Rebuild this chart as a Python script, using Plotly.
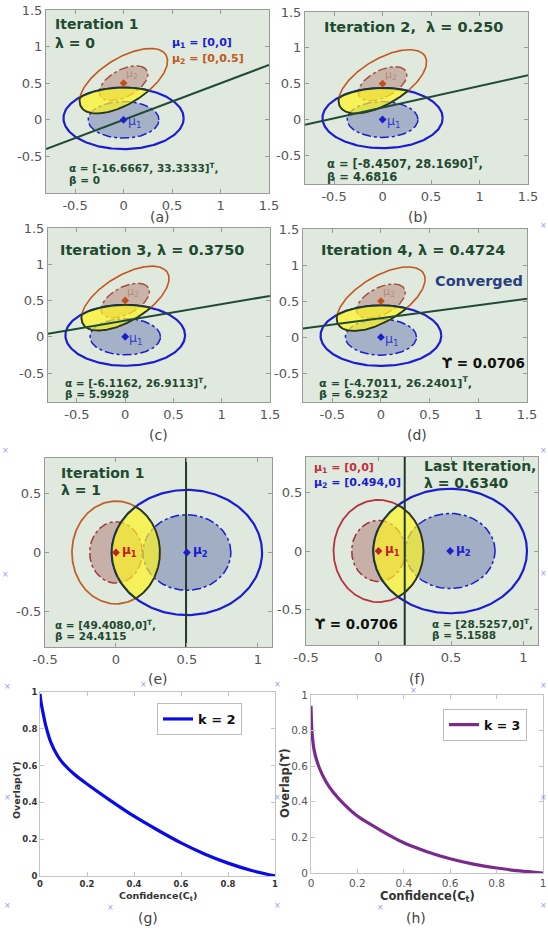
import numpy as np
import plotly.graph_objects as go

W, H = 548, 933
FONT = "DejaVu Sans"

# ---------------- data: panels (a)-(d) ----------------
titles_ad = ["Iteration 1", "Iteration 2,  λ = 0.250", "Iteration 3, λ = 0.3750", "Iteration 4, λ = 0.4724"]
alpha_ad = [(-16.6667, 33.3333), (-8.4507, 28.1690), (-6.1162, 26.9113), (-4.7011, 26.2401)]
beta_ad = [0, 4.6816, 5.9928, 6.9232]
alpha_txt_ad = ["[-16.6667, 33.3333]", "[-8.4507, 28.1690]", "[-6.1162, 26.9113]", "[-4.7011, 26.2401]"]
beta_txt_ad = ["0", "4.6816", "5.9928", "6.9232"]
mu1_ad = [0, 0]
mu2_ad = [0, 0.5]
# ellipse parameters: centre x, centre y, semi-axis a, semi-axis b, rotation (deg)
blue_outer_ad = [0, 0.02, 0.62, 0.42, 0]
blue_inner_ad = [0, 0.0, 0.365, 0.25, 0]
orange_outer_ad = [0, 0.53, 0.57, 0.28, 44]
orange_inner_ad = [0, 0.5, 0.30, 0.17, 42]

# ---------------- data: panels (e)-(f) ----------------
alpha_ef = [(49.4080, 0), (28.5257, 0)]
beta_ef = [24.4115, 5.1588]
alpha_txt_ef = ["[49.4080,0]", "[28.5257,0]"]
beta_txt_ef = ["24.4115", "5.1588"]
mu1_ef = [0, 0]
mu2_ef = [[0.5, 0], [0.494, 0]]
red_outer_ef = [0.31, 0.435]
red_inner_ef = [0.185, 0.26]
blue_outer_ef = [0.53, 0.53]
blue_inner_ef = [0.31, 0.32]

# ---------------- data: panels (g)-(h) ----------------
conf_k2 = [0, 0.005, 0.01, 0.024, 0.046, 0.074, 0.1, 0.146, 0.2, 0.3, 0.4, 0.5, 0.6, 0.7, 0.8, 0.9, 1.0]
overlap_k2 = [0.99, 0.94, 0.905, 0.82, 0.727, 0.655, 0.61, 0.553, 0.50, 0.41, 0.325, 0.25, 0.18, 0.12, 0.07, 0.03, 0.0]
conf_k3 = [0, 0.002, 0.005, 0.015, 0.036, 0.066, 0.095, 0.14, 0.2, 0.3, 0.4, 0.5, 0.6, 0.7, 0.8, 0.9, 1.0]
overlap_k3 = [0.94, 0.85, 0.78, 0.68, 0.59, 0.51, 0.455, 0.39, 0.32, 0.24, 0.17, 0.12, 0.08, 0.05, 0.028, 0.012, 0.0]

tick_ad = [-0.5, 0, 0.5, 1, 1.5]
tick_ad_txt = ["-0.5", "0", "0.5", "1", "1.5"]
tick_ef_x = [-0.5, 0, 0.5, 1]
tick_ef_x_txt = ["-0.5", "0", "0.5", "1"]
tick_ef_y = [-0.5, 0, 0.5]
tick_ef_y_txt = ["-0.5", "0", "0.5"]
tick_gh = [0, 0.2, 0.4, 0.6, 0.8, 1]
tick_gh_txt = ["0", "0.2", "0.4", "0.6", "0.8", "1"]

# ---------------- helpers ----------------
def ellipse_xy(p, n=240):
    cx, cy, a, b, ang = p
    t = np.linspace(0, 2 * np.pi, n)
    th = np.deg2rad(ang)
    x = cx + a * np.cos(t) * np.cos(th) - b * np.sin(t) * np.sin(th)
    y = cy + a * np.cos(t) * np.sin(th) + b * np.sin(t) * np.cos(th)
    return x, y

def inside(p, x, y):
    cx, cy, a, b, ang = p
    th = np.deg2rad(ang)
    dx, dy = x - cx, y - cy
    u = dx * np.cos(th) + dy * np.sin(th)
    v = -dx * np.sin(th) + dy * np.cos(th)
    return (u / a) ** 2 + (v / b) ** 2 <= 1.0

def intersection(p1, p2, n=1440):
    x1, y1 = ellipse_xy(p1, n)
    x2, y2 = ellipse_xy(p2, n)
    m1 = inside(p2, x1, y1)
    m2 = inside(p1, x2, y2)
    xs = np.concatenate([x1[m1], x2[m2]])
    ys = np.concatenate([y1[m1], y2[m2]])
    cx, cy = xs.mean(), ys.mean()
    o = np.argsort(np.arctan2(ys - cy, xs - cx))
    xs, ys = xs[o], ys[o]
    return np.append(xs, xs[0]), np.append(ys, ys[0])

def px(x):
    return x / W

def py(y):
    return 1 - y / H

fig = go.Figure()
layout = dict(width=W, height=H, margin=dict(l=0, r=0, t=0, b=0),
              paper_bgcolor="white", plot_bgcolor="white")
annotations = []
shapes = []

def ann(text, x, y, size, color, bold=True, xanchor="left", yanchor="middle", angle=0):
    annotations.append(dict(text=("<b>%s</b>" % text) if bold else text, x=px(x), y=py(y),
                            xref="paper", yref="paper", xanchor=xanchor, yanchor=yanchor,
                            showarrow=False, textangle=angle,
                            font=dict(family=FONT, size=size, color=color)))

# panel pixel boxes: (left, right, top, bottom)
boxes = [
    (46, 269, 10, 193), (305, 528, 12, 184),
    (48, 270, 228, 402), (303, 527, 229, 402),
    (45, 272, 458, 647), (306, 538, 457, 645),
    (40, 275, 692, 876), (311, 543, 695, 873),
]
yr_ad = [[-1.0, 1.5], [-0.9, 1.5], [-0.9, 1.5], [-0.9, 1.5]]

BG = "#dfe9de"
DKG = "#1f4a30"
BLUE = "#1c1cd0"
ORANGE = "#c4561e"

for i, (l, r, t, b) in enumerate(boxes):
    k = i + 1
    xs = "" if k == 1 else str(k)
    dom_x = [l / W, r / W]
    dom_y = [1 - b / H, 1 - t / H]
    if i < 4:
        xr, yr = [-0.8, 1.5], yr_ad[i]
        xtv, xtt, ytv, ytt = tick_ad, tick_ad_txt, tick_ad, tick_ad_txt
        tf = dict(family=FONT, size=13, color="#555")
        lc = "#9a9a9a"
    elif i < 6:
        xr, yr = [-0.5, 1.1], [-0.8, 0.8]
        xtv, xtt, ytv, ytt = tick_ef_x, tick_ef_x_txt, tick_ef_y, tick_ef_y_txt
        tf = dict(family=FONT, size=13, color="#555")
        lc = "#9a9a9a"
    else:
        xr, yr = [0, 1], [0, 1]
        if i == 6:
            xtt = ["<b>%s</b>" % s for s in tick_gh_txt]
            tf = dict(family=FONT, size=8.5, color="#333")
        else:
            xtt = tick_gh_txt
            tf = dict(family=FONT, size=10.5, color="#555")
        xtv, ytv, ytt = tick_gh, tick_gh, xtt
        lc = "#c4c4c4"
    common = dict(showgrid=False, zeroline=False, showline=True, linecolor=lc, linewidth=1,
                  mirror="ticks", ticks="inside", ticklen=4, tickcolor=lc, tickfont=tf,
                  automargin=False)
    layout["xaxis" + xs] = dict(domain=dom_x, range=xr, tickvals=xtv, ticktext=xtt,
                                anchor="y" + xs, **common)
    layout["yaxis" + xs] = dict(domain=dom_y, range=yr, tickvals=ytv, ticktext=ytt,
                                anchor="x" + xs, **common)
    if i < 6:
        shapes.append(dict(type="rect", xref="x%s domain" % xs, yref="y%s domain" % xs,
                           x0=0, x1=1, y0=0, y1=1, fillcolor=BG, line=dict(width=0), layer="below"))

def add(tr, k):
    xs = "" if k == 1 else str(k)
    tr.update(xaxis="x" + xs, yaxis="y" + xs)
    if tr.showlegend is None:
        tr.showlegend = False
    fig.add_trace(tr)

# ---------------- panels (a)-(d) ----------------
for i in range(4):
    k = i + 1
    x, y = ellipse_xy(blue_inner_ad)
    add(go.Scatter(x=x, y=y, mode="lines", fill="toself", fillcolor="rgba(45,65,150,0.33)",
                   line=dict(color=BLUE, width=1.5, dash="dashdot"), hoverinfo="skip"), k)
    x, y = ellipse_xy(orange_inner_ad)
    add(go.Scatter(x=x, y=y, mode="lines", fill="toself", fillcolor="rgba(150,60,45,0.30)",
                   line=dict(color="#a5503c", width=1.5, dash="dashdot"), hoverinfo="skip"), k)
    x, y = ellipse_xy(blue_outer_ad)
    add(go.Scatter(x=x, y=y, mode="lines", line=dict(color=BLUE, width=2.2), hoverinfo="skip"), k)
    x, y = ellipse_xy(orange_outer_ad)
    add(go.Scatter(x=x, y=y, mode="lines", line=dict(color=ORANGE, width=1.6), hoverinfo="skip"), k)
    x, y = intersection(blue_outer_ad, orange_outer_ad)
    add(go.Scatter(x=x, y=y, mode="lines", fill="toself", fillcolor="rgba(255,245,30,0.7)",
                   line=dict(color="#1f3a22", width=1.8), hoverinfo="skip"), k)
    a1, a2 = alpha_ad[i]
    lx = np.array([-0.8, 1.5])
    ly = (beta_ad[i] - a1 * lx) / a2
    add(go.Scatter(x=lx, y=ly, mode="lines", line=dict(color="#1f4a33", width=2), hoverinfo="skip"), k)
    add(go.Scatter(x=[mu1_ad[0]], y=[mu1_ad[1]], mode="markers",
                   marker=dict(symbol="diamond", size=6, color=BLUE), hoverinfo="skip"), k)
    add(go.Scatter(x=[mu2_ad[0]], y=[mu2_ad[1]], mode="markers",
                   marker=dict(symbol="diamond", size=6, color="#c0501a"), hoverinfo="skip"), k)
    xs = "" if k == 1 else str(k)
    annotations.append(dict(text="μ<sub>1</sub>", x=mu1_ad[0] + 0.02, y=mu1_ad[1] - 0.03,
                            xref="x" + xs, yref="y" + xs, xanchor="left", yanchor="middle",
                            showarrow=False, font=dict(family=FONT, size=12.5, color="rgba(30,30,210,0.85)")))
    annotations.append(dict(text="μ<sub>2</sub>", x=mu2_ad[0] + 0.0, y=mu2_ad[1] + 0.12,
                            xref="x" + xs, yref="y" + xs, xanchor="left", yanchor="middle",
                            showarrow=False, font=dict(family=FONT, size=11, color="rgba(170,100,80,0.55)")))

ann("Iteration 1", 53, 24, 14, DKG)
ann("λ = 0", 53, 43, 14, DKG)
ann("μ<sub>1</sub> = [0,0]", 170, 43, 11, BLUE)
ann("μ<sub>2</sub> = [0,0.5]", 170, 59, 11, "#c05a20")
ann(titles_ad[1], 322, 27, 14.5, DKG)
ann(titles_ad[2], 58, 250, 14.5, DKG)
ann(titles_ad[3], 319, 250, 14.5, DKG)
ann("Converged", 433, 281, 14.5, "#2b3f7f")
ann("ϒ = 0.0706", 440, 363, 13.5, "#111")
alpha_pos = [(67, 167, 180, 10.5), (325, 164, 177, 11.5), (63, 382, 394, 10.5), (317, 382, 394, 11.3)]
for i, (x0, ya, yb, s) in enumerate(alpha_pos):
    ann("α = %s<sup>T</sup>," % alpha_txt_ad[i], x0, ya, s, DKG)
    ann("β = %s" % beta_txt_ad[i], x0, yb, s, DKG)

# ---------------- panels (e)-(f) ----------------
ef_outer_col = ["#c0602a", "#b83040"]
ef_inner_col = ["#a03c3c", "#a03040"]
ef_mu_col = ["#c02020", "#c02030"]
for j in range(2):
    k = 5 + j
    xs = str(k)
    p_red_o = [mu1_ef[0], mu1_ef[1], red_outer_ef[0], red_outer_ef[1], 0]
    p_red_i = [mu1_ef[0], mu1_ef[1], red_inner_ef[0], red_inner_ef[1], 0]
    p_blu_o = [mu2_ef[j][0], mu2_ef[j][1], blue_outer_ef[0], blue_outer_ef[1], 0]
    p_blu_i = [mu2_ef[j][0], mu2_ef[j][1], blue_inner_ef[0], blue_inner_ef[1], 0]
    x, y = ellipse_xy(p_red_i)
    add(go.Scatter(x=x, y=y, mode="lines", fill="toself", fillcolor="rgba(150,55,55,0.32)",
                   line=dict(color=ef_inner_col[j], width=1.5, dash="dashdot"), hoverinfo="skip"), k)
    x, y = ellipse_xy(p_blu_i)
    add(go.Scatter(x=x, y=y, mode="lines", fill="toself", fillcolor="rgba(45,65,150,0.35)",
                   line=dict(color=BLUE, width=1.5, dash="dashdot"), hoverinfo="skip"), k)
    x, y = ellipse_xy(p_red_o)
    add(go.Scatter(x=x, y=y, mode="lines", line=dict(color=ef_outer_col[j], width=1.8), hoverinfo="skip"), k)
    x, y = ellipse_xy(p_blu_o)
    add(go.Scatter(x=x, y=y, mode="lines", line=dict(color=BLUE, width=2.2), hoverinfo="skip"), k)
    x, y = intersection(p_red_o, p_blu_o)
    add(go.Scatter(x=x, y=y, mode="lines", fill="toself", fillcolor="rgba(255,245,30,0.68)",
                   line=dict(color="#1f3a22", width=1.8), hoverinfo="skip"), k)
    xv = beta_ef[j] / alpha_ef[j][0]
    add(go.Scatter(x=[xv, xv], y=[-0.8, 0.8], mode="lines", line=dict(color="#1f3a28", width=2),
                   hoverinfo="skip"), k)
    add(go.Scatter(x=[mu1_ef[0]], y=[mu1_ef[1]], mode="markers",
                   marker=dict(symbol="diamond", size=6, color=ef_mu_col[j]), hoverinfo="skip"), k)
    add(go.Scatter(x=[mu2_ef[j][0]], y=[mu2_ef[j][1]], mode="markers",
                   marker=dict(symbol="diamond", size=6, color=BLUE), hoverinfo="skip"), k)
    annotations.append(dict(text="<b>μ<sub>1</sub></b>", x=mu1_ef[0] + 0.03, y=mu1_ef[1] + 0.01,
                            xref="x" + xs, yref="y" + xs, xanchor="left", yanchor="middle",
                            showarrow=False, font=dict(family=FONT, size=12, color=ef_mu_col[j])))
    annotations.append(dict(text="<b>μ<sub>2</sub></b>", x=mu2_ef[j][0] + 0.03, y=mu2_ef[j][1] + 0.01,
                            xref="x" + xs, yref="y" + xs, xanchor="left", yanchor="middle",
                            showarrow=False, font=dict(family=FONT, size=12, color=BLUE)))

ann("Iteration 1", 59, 473, 14, DKG)
ann("λ = 1", 59, 490, 14, DKG)
ann("α = %s<sup>T</sup>," % alpha_txt_ef[0], 53, 624, 10.5, DKG)
ann("β = %s" % beta_txt_ef[0], 53, 636, 10.5, DKG)
ann("μ<sub>1</sub> = [0,0]", 312, 468, 11, "#c03040")
ann("μ<sub>2</sub> = [0.494,0]", 312, 483, 11, BLUE)
ann("Last Iteration,", 422, 466, 14, DKG)
ann("λ = 0.6340", 422, 483, 14, DKG)
ann("ϒ = 0.0706", 313, 624, 13.5, "#111")
ann("α = %s<sup>T</sup>," % alpha_txt_ef[1], 430, 623, 10.5, DKG)
ann("β = %s" % beta_txt_ef[1], 430, 635, 10.5, DKG)

# ---------------- panels (g)-(h) ----------------
add(go.Scatter(x=conf_k2, y=overlap_k2, mode="lines", name="<b>k = 2</b>", showlegend=True,
               line=dict(color="#0a0ae6", width=3.2, shape="spline", smoothing=0.8),
               legend="legend", hoverinfo="skip"), 7)
add(go.Scatter(x=conf_k3, y=overlap_k3, mode="lines", name="<b>k = 3</b>", showlegend=True,
               line=dict(color="#7a2a8e", width=3.2, shape="spline", smoothing=0.8),
               legend="legend2", hoverinfo="skip"), 8)

layout["legend"] = dict(x=px(157), y=py(703), xanchor="left", yanchor="top", bgcolor="white",
                        bordercolor="#bbb", borderwidth=1, font=dict(family=FONT, size=13, color="#111"),
                        itemwidth=30, tracegroupgap=0)
layout["legend2"] = dict(x=px(443), y=py(709), xanchor="left", yanchor="top", bgcolor="white",
                         bordercolor="#bbb", borderwidth=1, font=dict(family=FONT, size=12.5, color="#111"),
                         itemwidth=30, tracegroupgap=0)

ann("Confidence(C<sub>t</sub>)", 158, 896, 9.5, "#333", xanchor="center")
ann("Overlap(ϒ)", 16, 790, 9.5, "#333", xanchor="center", angle=-90)
ann("Confidence(C<sub>t</sub>)", 427, 896, 11.5, "#333", xanchor="center")
ann("Overlap(ϒ)", 285, 783, 11.5, "#333", xanchor="center", angle=-90)

# captions
for lab, x, y in [("(a)", 160, 217), ("(b)", 418, 217), ("(c)", 158, 435), ("(d)", 417, 435),
                  ("(e)", 158, 679), ("(f)", 417, 679), ("(g)", 148, 918), ("(h)", 416, 918)]:
    ann(lab, x, y, 14, "#444", bold=False, xanchor="center")

# scanner artefacts (small blue crosses)
for x, y in [(5, 450), (5, 574), (7, 686), (7, 797), (7, 905), (110, 907), (143, 684), (277, 684),
             (277, 797), (277, 905), (543, 225), (543, 450), (543, 573), (413, 690), (380, 907),
             (543, 797), (543, 905), (543, 685)]:
    ann("×", x, y, 8, "rgba(120,120,240,0.8)", bold=False, xanchor="center")

layout["annotations"] = annotations
layout["shapes"] = shapes
fig.update_layout(**layout)
fig.write_html("out.html")
